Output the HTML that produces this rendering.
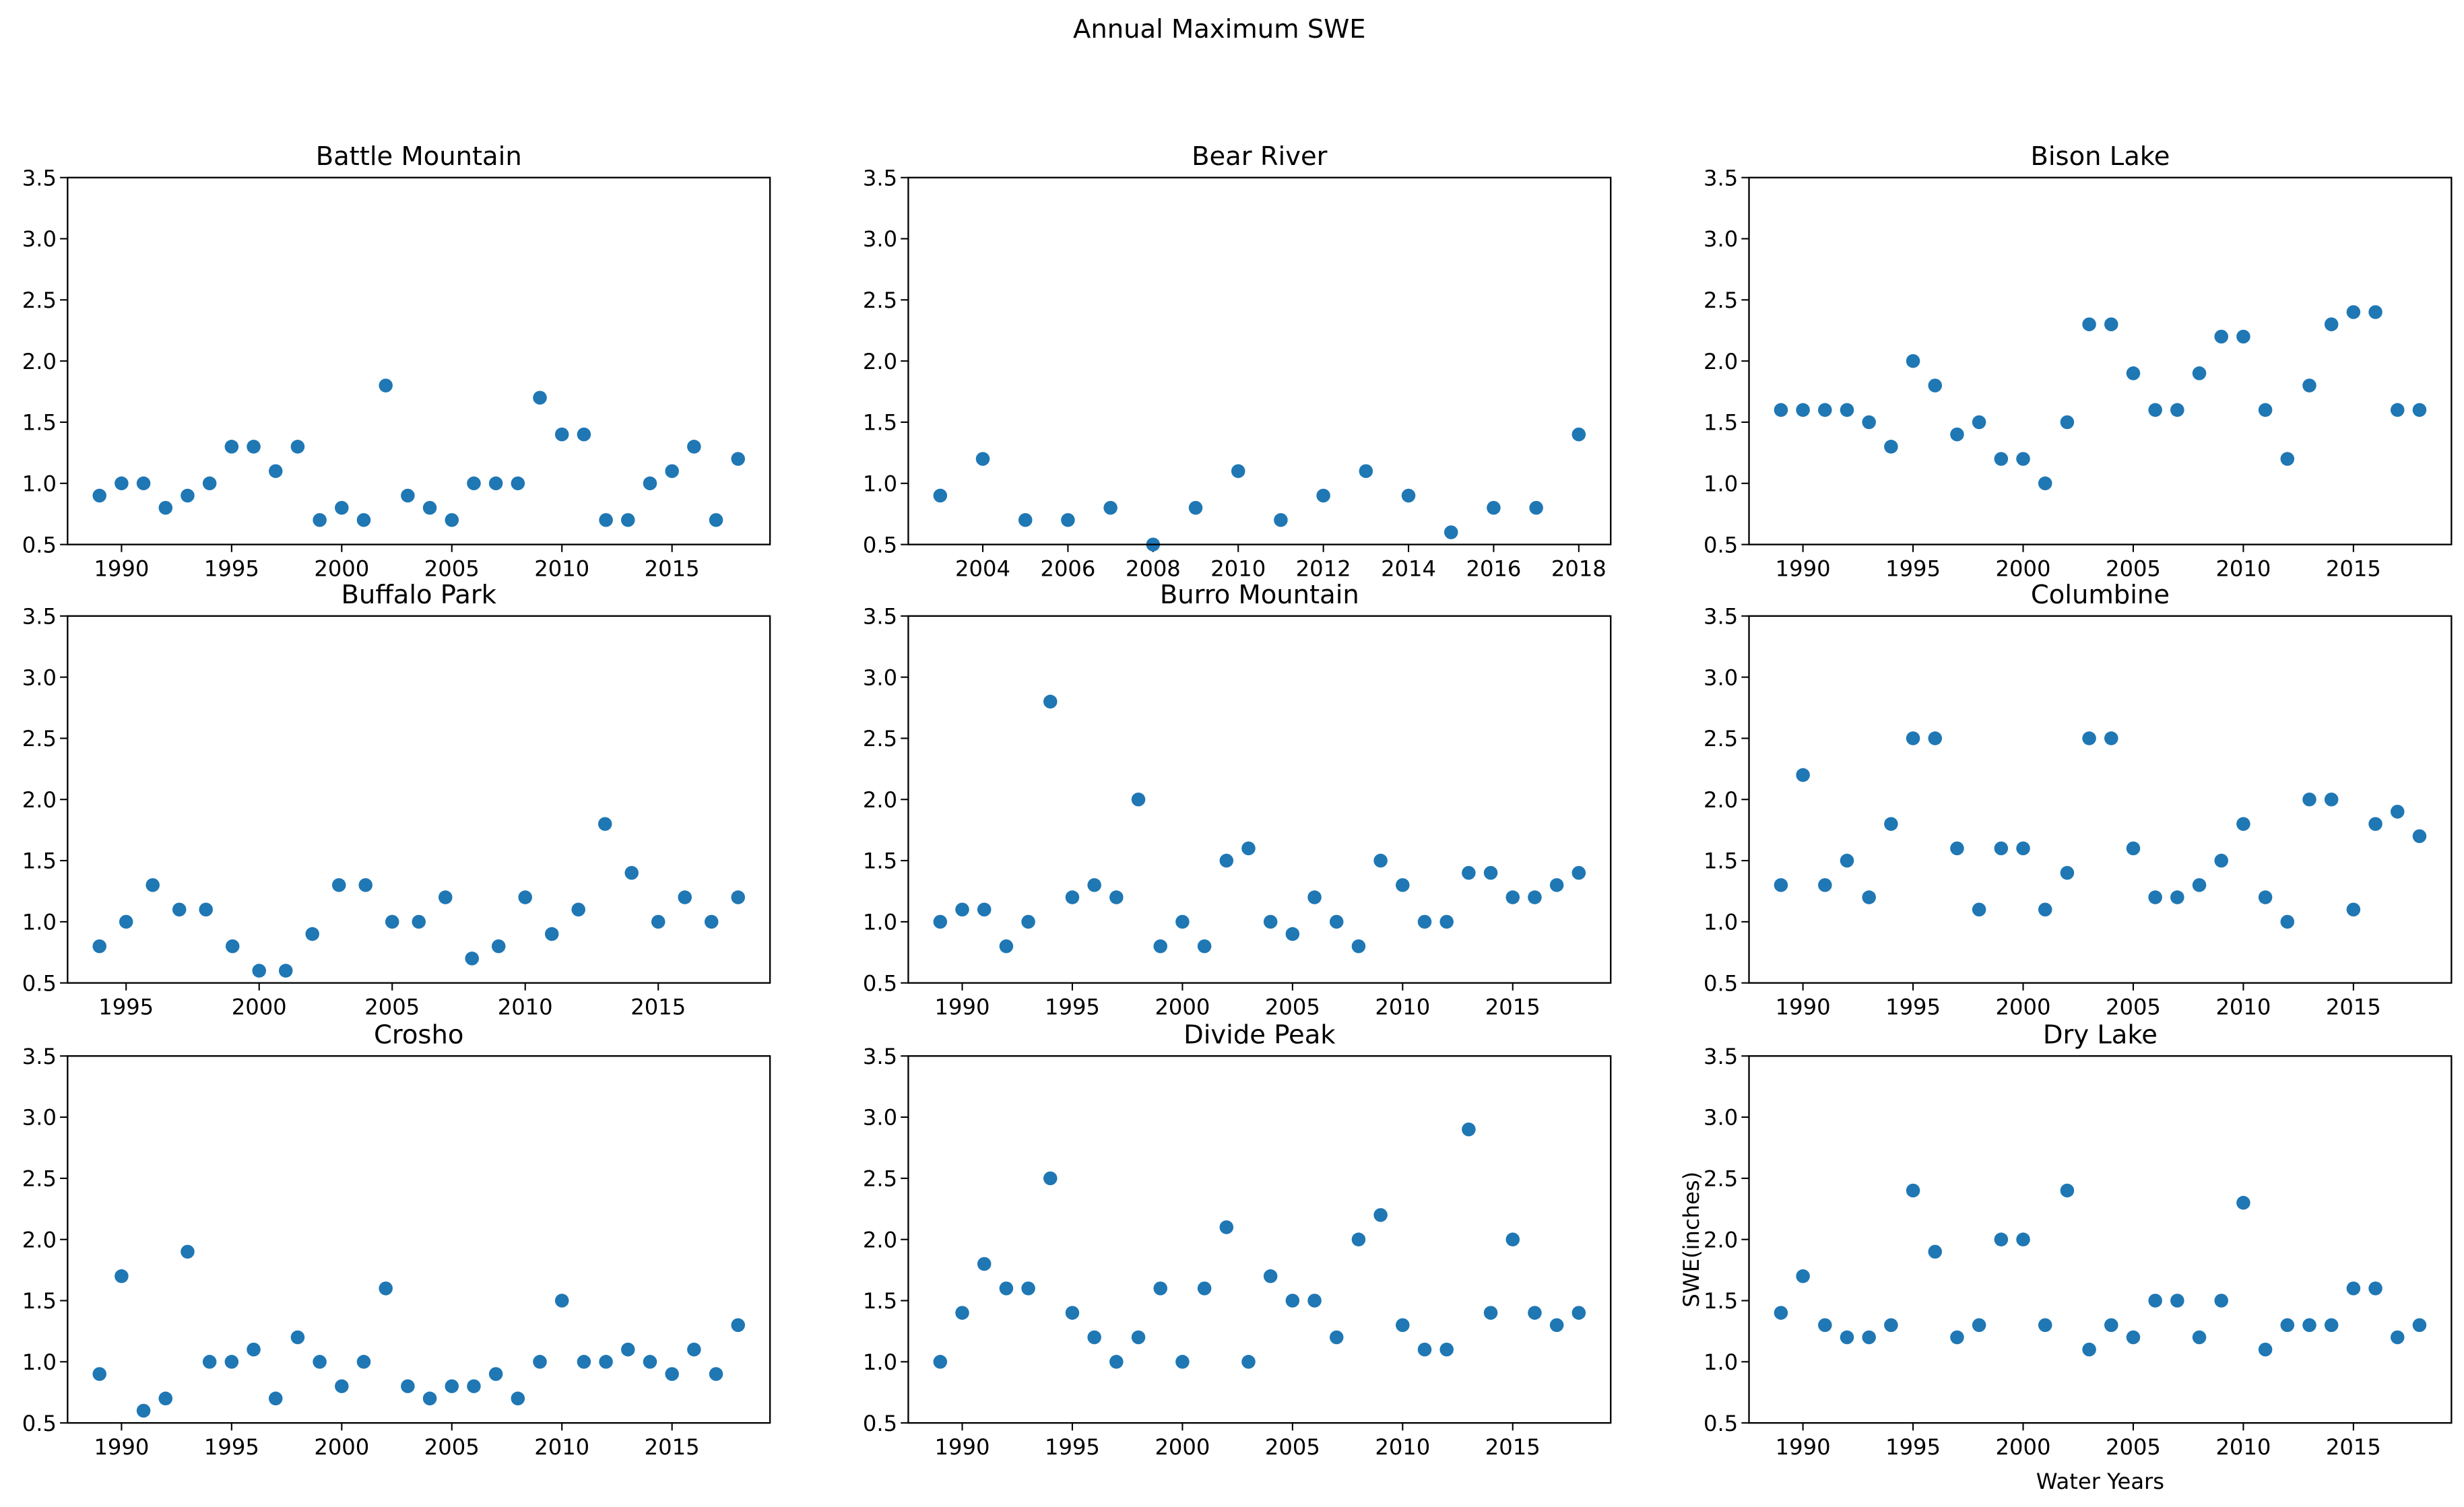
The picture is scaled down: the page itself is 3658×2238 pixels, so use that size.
<!DOCTYPE html>
<html><head><meta charset="utf-8"><style>
html,body{margin:0;padding:0;background:#fff;}
svg{display:block;}
text{font-family:"DejaVu Sans","Liberation Sans",sans-serif;fill:#000;}
</style></head><body>
<svg id="fig" width="3658" height="2238" viewBox="0 0 1568 959" preserveAspectRatio="none" xmlns="http://www.w3.org/2000/svg">
<rect width="1568" height="959" fill="#fff"/>
<text x="776" y="24" font-size="16.5" text-anchor="middle">Annual Maximum SWE</text>
</svg>
<script>
const stationNames = ["Battle Mountain","Bear River","Bison Lake","Buffalo Park","Burro Mountain","Columbine","Crosho","Divide Peak","Dry Lake"];
const startYears = [1989,2003,1989,1994,1989,1989,1989,1989,1989];
const battleMountain = [0.9,1.0,1.0,0.8,0.9,1.0,1.3,1.3,1.1,1.3,0.7,0.8,0.7,1.8,0.9,0.8,0.7,1.0,1.0,1.0,1.7,1.4,1.4,0.7,0.7,1.0,1.1,1.3,0.7,1.2];
const bearRiver = [0.9,1.2,0.7,0.7,0.8,0.5,0.8,1.1,0.7,0.9,1.1,0.9,0.6,0.8,0.8,1.4];
const bisonLake = [1.6,1.6,1.6,1.6,1.5,1.3,2.0,1.8,1.4,1.5,1.2,1.2,1.0,1.5,2.3,2.3,1.9,1.6,1.6,1.9,2.2,2.2,1.6,1.2,1.8,2.3,2.4,2.4,1.6,1.6];
const buffaloPark = [0.8,1.0,1.3,1.1,1.1,0.8,0.6,0.6,0.9,1.3,1.3,1.0,1.0,1.2,0.7,0.8,1.2,0.9,1.1,1.8,1.4,1.0,1.2,1.0,1.2];
const burroMountain = [1.0,1.1,1.1,0.8,1.0,2.8,1.2,1.3,1.2,2.0,0.8,1.0,0.8,1.5,1.6,1.0,0.9,1.2,1.0,0.8,1.5,1.3,1.0,1.0,1.4,1.4,1.2,1.2,1.3,1.4];
const columbine = [1.3,2.2,1.3,1.5,1.2,1.8,2.5,2.5,1.6,1.1,1.6,1.6,1.1,1.4,2.5,2.5,1.6,1.2,1.2,1.3,1.5,1.8,1.2,1.0,2.0,2.0,1.1,1.8,1.9,1.7];
const crosho = [0.9,1.7,0.6,0.7,1.9,1.0,1.0,1.1,0.7,1.2,1.0,0.8,1.0,1.6,0.8,0.7,0.8,0.8,0.9,0.7,1.0,1.5,1.0,1.0,1.1,1.0,0.9,1.1,0.9,1.3];
const dividePeak = [1.0,1.4,1.8,1.6,1.6,2.5,1.4,1.2,1.0,1.2,1.6,1.0,1.6,2.1,1.0,1.7,1.5,1.5,1.2,2.0,2.2,1.3,1.1,1.1,2.9,1.4,2.0,1.4,1.3,1.4];
const dryLake = [1.4,1.7,1.3,1.2,1.2,1.3,2.4,1.9,1.2,1.3,2.0,2.0,1.3,2.4,1.1,1.3,1.2,1.5,1.5,1.2,1.5,2.3,1.1,1.3,1.3,1.3,1.6,1.6,1.2,1.3];
const seriesList = [battleMountain,bearRiver,bisonLake,buffaloPark,burroMountain,columbine,crosho,dividePeak,dryLake];
const yTicks = [0.5,1.0,1.5,2.0,2.5,3.0,3.5];

const NS="http://www.w3.org/2000/svg";
const fig=document.getElementById('fig');
function mk(tag,attrs,parent){const e=document.createElementNS(NS,tag);for(const k in attrs)e.setAttribute(k,attrs[k]);(parent||fig).appendChild(e);return e;}
const colX=[43,578,1113], rowY=[113,392,672], W=447, H=233.5;
seriesList.forEach((vals,i)=>{
  const c=i%3, r=Math.floor(i/3), L=colX[c], T=rowY[r];
  const slug=stationNames[i].toLowerCase().replace(/ /g,'-');
  const g=mk('g',{});
  
  
  const y0=startYears[i], y1=y0+vals.length-1, pad=(y1-y0)*0.05;
  const xmin=y0-pad, xmax=y1+pad;
  const sx=v=>L+(v-xmin)/(xmax-xmin)*W;
  const sy=v=>T+H-(v-0.5)/3.0*H;
  const t=mk('text',{x:L+W/2,y:T-8,'font-size':16.5,'text-anchor':'middle'},g);
  t.textContent=stationNames[i];
  
  
  yTicks.forEach(v=>{
    mk('line',{x1:L-4.8,x2:L,y1:sy(v),y2:sy(v),stroke:'#000','stroke-width':0.9},g);
    const tt=mk('text',{x:L-7,y:sy(v)+5,'font-size':13.8,'text-anchor':'end'},g);
    tt.textContent=v.toFixed(1);
    
    
  });
  const step=(y1-y0)>20?5:2;
  for(let yr=Math.ceil(xmin/step)*step; yr<=xmax; yr+=step){
    mk('line',{x1:sx(yr),x2:sx(yr),y1:T+H,y2:T+H+4.8,stroke:'#000','stroke-width':0.9},g);
    const tt=mk('text',{x:sx(yr),y:T+H+20,'font-size':13.8,'text-anchor':'middle'},g);
    tt.textContent=yr;
    
    
  }
  vals.forEach((v,k)=>{
    const d=mk('circle',{cx:sx(y0+k),cy:sy(v),r:4.4,fill:'#1f77b4'},g);
    
    
  });
  const fr=mk('rect',{x:L,y:T,width:W,height:H,fill:'none',stroke:'#000','stroke-width':1},g);
  
  
  if(i===8){
    const yl=mk('text',{x:0,y:0,'font-size':13.8,'text-anchor':'middle',transform:`translate(${L-32},${T+H/2}) rotate(-90)`},g);
    yl.textContent='SWE(inches)';
    
    
    const xl=mk('text',{x:L+W/2,y:T+H+42,'font-size':13.8,'text-anchor':'middle'},g);
    xl.textContent='Water Years';
    
    
  }
});
</script>
</body></html>
